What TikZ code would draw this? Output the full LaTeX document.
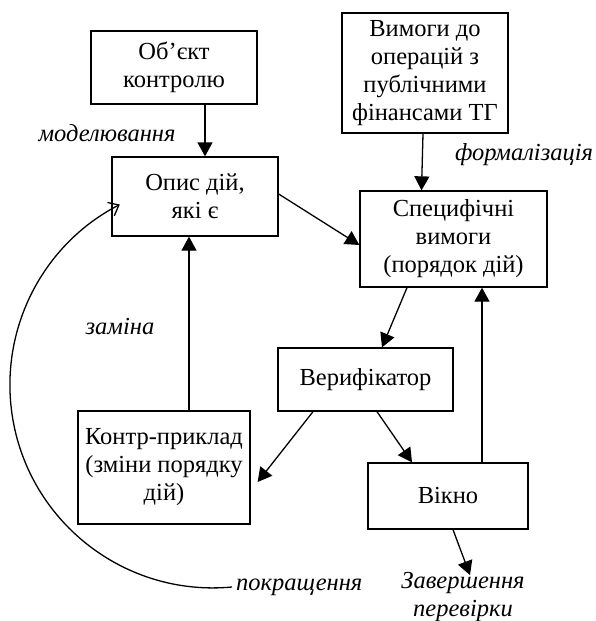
\documentclass[tikz,border=0pt]{standalone}
\usepackage{fontspec}
\setmainfont{Liberation Serif}
\usetikzlibrary{arrows.meta}
\begin{document}
\begin{tikzpicture}[x=1pt,y=-1pt,
  box/.style={draw,line width=1.3pt,align=center,inner sep=0pt,font=\fontsize{24.5}{28}\selectfont},
  lbl/.style={align=center,inner sep=0pt,font=\fontsize{24.5}{28}\selectfont\itshape},
  conn/.style={line width=1.3pt,-{Triangle[length=14pt,width=15pt]}},
  open/.style={line width=1.3pt,-{Straight Barb[length=9pt,width=15pt,line width=1.3pt]}}]
\useasboundingbox (0,0) rectangle (596,621);
\node[box,minimum width=166pt,minimum height=73pt] (b1) at (174,67.5) {Об’єкт\\контролю};
\node[box,minimum width=166pt,minimum height=79pt] (b2) at (195,196.5) {Опис дій,\\які є};
\node[box,minimum width=166pt,minimum height=120pt] (b3) at (425,73) {Вимоги до\\операцій з\\публічними\\фінансами ТГ};
\node[box,minimum width=187pt,minimum height=96pt] (b4) at (453.5,239) {Специфічні\\вимоги\\(порядок дій)};
\node[box,minimum width=172pt,minimum height=113pt] (b5) at (164,467.5) {Контр-приклад\\(зміни порядку\\дій)};
\node[box,minimum width=175pt,minimum height=63pt] (b6) at (365.5,379.5) {Верифікатор};
\node[box,minimum width=160pt,minimum height=66pt] (b7) at (448,496) {Вікно};

\node[lbl] (model) at (107,133) {моделювання};
\node[lbl] (form) at (524,155) {формалізація};
\node[lbl] (zam) at (120,327) {заміна};
\node[lbl,anchor=west] (impr) at (236,587) {покращення};
\node[lbl] (fin) at (463,597) {Завершення\\перевірки};

\draw[conn] ([xshift=31pt]b1.south) -- ([xshift=10pt]b2.north);
\draw[conn] ([xshift=-2pt]b3.south) -- ([xshift=-32pt]b4.north);
\draw[conn] ([yshift=2.5pt]b2.east) -- ([yshift=-6pt]b4.west);
\draw[conn] ([xshift=-46.5pt]b4.south) -- ([xshift=16.5pt]b6.north);
\draw[conn] ([xshift=11.5pt]b6.south) -- ([xshift=-36pt]b7.north);
\draw[conn] ([xshift=-52.5pt]b6.south) -- ([xshift=7pt,yshift=-14.5pt]b5.east);
\draw[conn] ([xshift=34pt]b7.north) -- ([xshift=28.5pt]b4.south);
\draw[conn] ([xshift=25pt]b5.north) -- ([xshift=-6pt]b2.south);
\draw[conn] ([xshift=5pt]b7.south) -- ([xshift=7pt,yshift=-3pt]fin.north);
\draw[open] ([xshift=-4pt]impr.west) arc[start angle=275.4,end angle=117.3,radius=203pt];
\end{tikzpicture}
\end{document}
